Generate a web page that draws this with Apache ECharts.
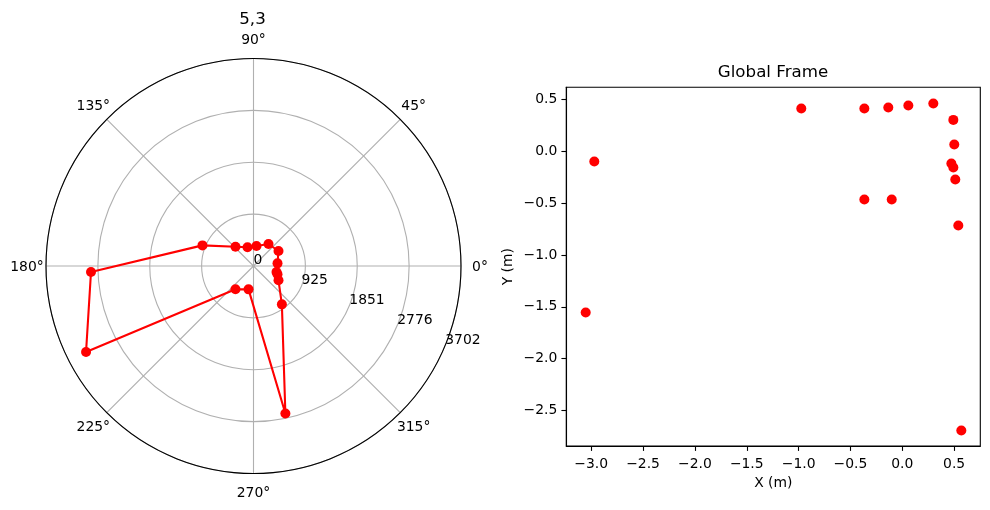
<!doctype html>
<html>
	<head>
		<meta charset="UTF-8">
		<title>5,3</title>
		<style type="text/css">
			html, body { margin: 0; padding: 0; background: #fff; }
			#main { width: 990px; height: 510px; }
		</style>
	</head>
	<body>
		<div id="main"></div>
		<script src="https://cdn.jsdelivr.net/npm/echarts@6/dist/echarts.min.js"></script>
		<script type="text/javascript">
			// polar panel, range in mm and angle in degrees
			var polarRanges = [431, 520, 475, 361, 350, 471, 982, 2901, 3359, 526, 426, 2692, 851, 514, 453, 424];
			var polarAngles = [6.3, 31, 55.7, 81.5, 107.8, 133, 158, 182.1, 207.2, 232.3, 258, 282.2, 306.5, 330.2, 341, 345.4];
			var radiusTicks = [0, 925, 1851, 2776, 3702];
			var radiusLabelAngle = 337.5;
			var angleTicks = [0, 45, 90, 135, 180, 225, 270, 315];
			var angleLabelRadius = 4041;
			// global frame panel, metres
			var globalX = [0.501, 0.492, 0.299, 0.058, -0.135, -0.366, -0.974, -2.97, -3.053, -0.366, -0.102, 0.569, 0.54, 0.511, 0.492, 0.473];
			var globalY = [0.068, 0.305, 0.464, 0.444, 0.425, 0.415, 0.415, -0.097, -1.556, -0.464, -0.464, -2.696, -0.715, -0.271, -0.155, -0.116];
			var xTicks = [-3, -2.5, -2, -1.5, -1, -0.5, 0, 0.5];
			var yTicks = [-2.5, -2, -1.5, -1, -0.5, 0, 0.5];

			var font = 'DejaVu Sans';
			var tickText = function(v){
				return Number(v).toFixed(1).replace('-', '\u2212');
			};
			var zip = function(a, b){
				return a.map(function(v, i){ return [v, b[i]]; });
			};

			var chart = echarts.init(document.getElementById('main'), null, { renderer: 'canvas' });
			chart.setOption({
				animation: false,
				backgroundColor: '#fff',
				textStyle: { fontFamily: font },
				title: [
					{ text: '5,3', left: 247.5, top: 6, textAlign: 'center',
						textStyle: { fontFamily: font, fontSize: 16.67, fontWeight: 'normal', color: '#000' } },
					{ text: 'Global Frame', left: 768, top: 59, textAlign: 'center',
						textStyle: { fontFamily: font, fontSize: 16.67, fontWeight: 'normal', color: '#000' } }
				],
				polar: { center: [253.5, 266], radius: 207.5 },
				angleAxis: {
					type: 'value', min: 0, max: 360, interval: 45, startAngle: 0, clockwise: false,
					axisLine: { lineStyle: { color: '#000', width: 1.1 } },
					axisTick: { show: false },
					axisLabel: { show: false },
					splitLine: { show: true, lineStyle: { color: '#b0b0b0', width: 1.1 } }
				},
				radiusAxis: {
					type: 'value', min: 0, max: 3702, interval: 925.5,
					axisLine: { show: false },
					axisTick: { show: false },
					axisLabel: { show: false },
					splitLine: { show: true, lineStyle: { color: '#b0b0b0', width: 1.1 } }
				},
				grid: {
					left: 566.3, top: 87.3, width: 414, height: 358.7,
					show: true, borderColor: '#000', borderWidth: 1.1, backgroundColor: 'transparent'
				},
				xAxis: {
					type: 'value', min: -3.24, max: 0.752,
					name: 'X (m)', nameLocation: 'middle', nameGap: 30,
					nameTextStyle: { color: '#000', fontSize: 13.9, fontFamily: font },
					axisLine: { onZero: false, lineStyle: { color: '#000', width: 1.1 } },
					axisTick: { length: 4.9, customValues: xTicks, lineStyle: { color: '#000', width: 1.1 } },
					axisLabel: { customValues: xTicks, margin: 11, color: '#000', fontSize: 13.9, fontFamily: font, formatter: tickText },
					splitLine: { show: false }
				},
				yAxis: {
					type: 'value', min: -2.845, max: 0.62,
					name: 'Y (m)', nameLocation: 'middle', nameGap: 51,
					nameTextStyle: { color: '#000', fontSize: 13.9, fontFamily: font },
					axisLine: { onZero: false, lineStyle: { color: '#000', width: 1.1 } },
					axisTick: { length: 4.9, customValues: yTicks, lineStyle: { color: '#000', width: 1.1 } },
					axisLabel: { customValues: yTicks, margin: 9, padding: [6, 0, 0, 0], color: '#000', fontSize: 13.9, fontFamily: font, formatter: tickText },
					splitLine: { show: false }
				},
				series: [
					{
						type: 'line', coordinateSystem: 'polar', silent: true,
						data: zip(polarRanges, polarAngles),
						symbol: 'circle', symbolSize: 10, showSymbol: true,
						itemStyle: { color: '#f00' },
						lineStyle: { color: '#f00', width: 2.1 }
					},
					{
						// range labels sit along one spoke, like the original
						type: 'scatter', coordinateSystem: 'polar', silent: true,
						data: radiusTicks.map(function(r){ return [r, radiusLabelAngle]; }),
						symbolSize: 0, z: 5,
						itemStyle: { opacity: 1 },
						label: {
							show: true, position: 'inside', align: 'left', verticalAlign: 'bottom', offset: [0, 1.5],
							color: '#000', fontSize: 13.9, fontFamily: font,
							formatter: function(p){ return String(p.value[0]); }
						}
					},
					{
						// angle labels are centred on a ring just outside the circle
						type: 'scatter', coordinateSystem: 'polar', silent: true, clip: false,
						data: angleTicks.map(function(a){ return [angleLabelRadius, a]; }),
						symbolSize: 0, z: 5,
						itemStyle: { opacity: 1 },
						label: {
							show: true, position: 'inside', align: 'center', verticalAlign: 'middle', offset: [0, 1],
							color: '#000', fontSize: 13.9, fontFamily: font,
							formatter: function(p){ return p.value[1] + '°'; }
						}
					},
					{
						type: 'scatter', silent: true,
						data: zip(globalX, globalY),
						symbol: 'circle', symbolSize: 10,
						itemStyle: { color: '#f00', opacity: 1 }
					}
				]
			});
		</script>
	</body>
</html>
